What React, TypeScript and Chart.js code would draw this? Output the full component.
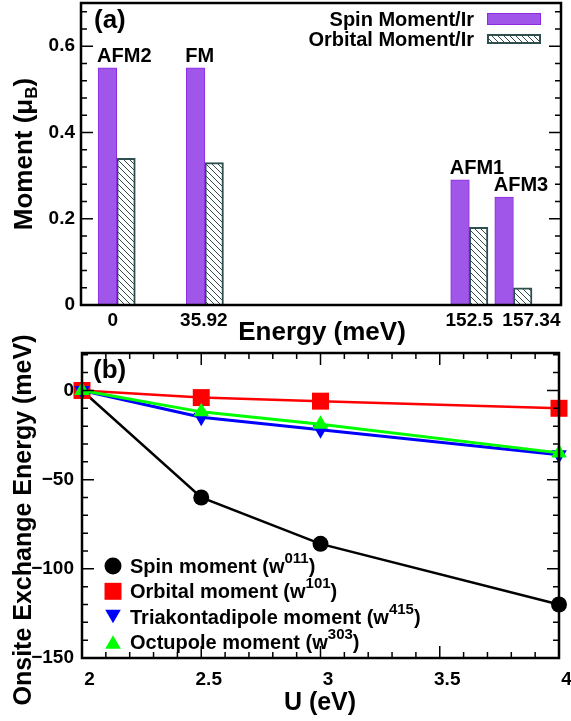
import React, { useEffect, useRef } from 'react';
import { Chart, registerables } from 'chart.js';

Chart.register(...registerables);

const FONT = '"Liberation Sans", Arial, Helvetica, sans-serif';

// ---------- Panel (a) data ----------
const configurations = ['AFM2', 'FM', 'AFM1', 'AFM3'];
const energyTickLabels = ['0', '35.92', '152.5', '157.34'];
const energySlots = [0, 2, 8, 9];
const spinMomentPerIr = [0.55, 0.55, 0.29, 0.25];
const orbitalMomentPerIr = [0.34, 0.33, 0.18, 0.04];
const momentLegend = ['Spin Moment/Ir', 'Orbital Moment/Ir'];

// ---------- Panel (b) data ----------
const uValues = [2, 2.5, 3, 4];
const spinExchange = [0, -60, -86, -120];
const orbitalExchange = [0, -4, -6, -10];
const triakontadipoleExchange = [0, -15, -22, -36];
const octupoleExchange = [0, -12, -19, -35];
const exchangeNames = ['Spin moment', 'Orbital moment', 'Triakontadipole moment', 'Octupole moment'];
const exchangeIndices = ['011', '101', '415', '303'];

// ---------- styles ----------
const PURPLE_FILL = '#a056e8';
const PURPLE_EDGE = '#8a2be2';
const HATCH_COLOR = '#2f4f4f';
const energyLabelShift = [-4, -1, 0, 18];
const MOMENT_MINOR = 0.04;

const exchangeStyles = [
  { color: '#000000', style: 'circle', radius: 8, rotation: 0, width: 2.5, order: 3 },
  { color: '#ff0000', style: 'rect', radius: 12, rotation: 0, width: 2.5, order: 2 },
  { color: '#0000ff', style: 'triangle', radius: 9, rotation: 180, width: 3, order: 1 },
  { color: '#00ff00', style: 'triangle', radius: 9, rotation: 0, width: 3, order: 0 },
];

function makeHatch(): CanvasPattern | string {
  const c = document.createElement('canvas');
  c.width = 6;
  c.height = 6;
  const g = c.getContext('2d');
  if (!g) return '#ffffff';
  g.fillStyle = '#ffffff';
  g.fillRect(0, 0, 6, 6);
  g.strokeStyle = HATCH_COLOR;
  g.lineWidth = 1;
  g.beginPath();
  g.moveTo(-1, -1); g.lineTo(7, 7);
  g.moveTo(-1, 5); g.lineTo(1, 7);
  g.moveTo(5, -1); g.lineTo(7, 1);
  g.stroke();
  return g.createPattern(c, 'repeat') || '#ffffff';
}

type Seg = { text: string; size: number; dy: number };

function drawSegs(ctx: CanvasRenderingContext2D, segs: Seg[], x: number, y: number, align: 'left' | 'center' | 'right') {
  const widths = segs.map((s) => {
    ctx.font = `bold ${s.size}px ${FONT}`;
    return ctx.measureText(s.text).width;
  });
  const total = widths.reduce((a, b) => a + b, 0);
  let cx = align === 'left' ? x : align === 'center' ? x - total / 2 : x - total;
  ctx.textAlign = 'left';
  ctx.textBaseline = 'alphabetic';
  segs.forEach((s, i) => {
    ctx.font = `bold ${s.size}px ${FONT}`;
    ctx.fillText(s.text, cx, y + s.dy);
    cx += widths[i];
  });
}

function drawMarker(ctx: CanvasRenderingContext2D, style: string, rotation: number, x: number, y: number, r: number, color: string) {
  ctx.fillStyle = color;
  ctx.beginPath();
  if (style === 'circle') {
    ctx.arc(x, y, r, 0, Math.PI * 2);
  } else if (style === 'rect') {
    const s = r * Math.SQRT1_2;
    ctx.rect(x - s, y - s, 2 * s, 2 * s);
  } else {
    let rad = (rotation * Math.PI) / 180;
    ctx.moveTo(x + Math.sin(rad) * r, y - Math.cos(rad) * r);
    rad += (2 * Math.PI) / 3;
    ctx.lineTo(x + Math.sin(rad) * r, y - Math.cos(rad) * r);
    rad += (2 * Math.PI) / 3;
    ctx.lineTo(x + Math.sin(rad) * r, y - Math.cos(rad) * r);
    ctx.closePath();
  }
  ctx.fill();
}

function makePanelAPlugin(hatch: CanvasPattern | string) {
  return {
    id: 'panelA',
    afterDraw(chart: any) {
      const { ctx, chartArea: ca } = chart;
      const xs = chart.scales.x;
      const ys = chart.scales.y;
      ctx.save();
      // ticks
      ctx.strokeStyle = '#000';
      ctx.lineWidth = 1.5;
      ctx.beginPath();
      for (let i = 1; i * MOMENT_MINOR <= ys.max + 1e-9; i++) {
        const py = ys.getPixelForValue(i * MOMENT_MINOR);
        const len = i % 5 === 0 ? 12 : 6;
        ctx.moveTo(ca.left, py); ctx.lineTo(ca.left + len, py);
        ctx.moveTo(ca.right, py); ctx.lineTo(ca.right - len, py);
      }
      ctx.stroke();
      // frame
      ctx.lineWidth = 2.5;
      ctx.strokeRect(ca.left, ca.top, ca.right - ca.left, ca.bottom - ca.top);

      ctx.fillStyle = '#000';
      // configuration labels above spin bars
      const meta = chart.getDatasetMeta(0);
      ctx.font = `bold 20px ${FONT}`;
      ctx.textAlign = 'left';
      ctx.textBaseline = 'alphabetic';
      meta.data.forEach((bar: any, i: number) => {
        ctx.fillText(configurations[i], bar.x - bar.width / 2 - 1, bar.y - 6);
      });

      // energy tick labels
      ctx.font = `bold 19px ${FONT}`;
      ctx.textAlign = 'center';
      ctx.textBaseline = 'middle';
      energyTickLabels.forEach((lab, i) => {
        ctx.fillText(lab, xs.getPixelForValue(energySlots[i]) + energyLabelShift[i], ca.bottom + 16);
      });

      // x title
      ctx.font = `bold 26px ${FONT}`;
      ctx.textAlign = 'center';
      ctx.textBaseline = 'alphabetic';
      ctx.fillText('Energy (meV)', 322, ca.bottom + 35);

      // y title
      ctx.save();
      ctx.translate(32, 154);
      ctx.rotate(-Math.PI / 2);
      drawSegs(ctx, [
        { text: 'Moment (\u03bc', size: 26, dy: 0 },
        { text: 'B', size: 17, dy: 5 },
        { text: ')', size: 26, dy: 0 },
      ], 0, 0, 'center');
      ctx.restore();

      // panel tag
      ctx.font = `bold 26px ${FONT}`;
      ctx.textAlign = 'left';
      ctx.fillText('(a)', ca.left + 13, ca.top + 25);

      // legend
      ctx.font = `bold 20px ${FONT}`;
      ctx.textAlign = 'right';
      ctx.fillText(momentLegend[0], ca.right - 87, ca.top + 23);
      ctx.fillText(momentLegend[1], ca.right - 87, ca.top + 43);
      const sx = ca.right - 74;
      ctx.fillStyle = PURPLE_FILL;
      ctx.fillRect(sx, ca.top + 10, 54, 12);
      ctx.strokeStyle = PURPLE_EDGE;
      ctx.lineWidth = 1;
      ctx.strokeRect(sx + 0.5, ca.top + 10.5, 53, 11);
      ctx.fillStyle = hatch as any;
      ctx.fillRect(sx, ca.top + 31, 54, 10);
      ctx.strokeStyle = HATCH_COLOR;
      ctx.lineWidth = 2;
      ctx.strokeRect(sx + 1, ca.top + 32, 52, 8);
      ctx.restore();
    },
  };
}

const panelBPlugin = {
  id: 'panelB',
  afterDraw(chart: any) {
    const { ctx, chartArea: ca } = chart;
    const xs = chart.scales.x;
    const ys = chart.scales.y;
    ctx.save();
    ctx.strokeStyle = '#000';
    ctx.lineWidth = 1.5;
    ctx.beginPath();
    for (let i = -14; i <= 2; i++) {
      const py = ys.getPixelForValue(i * 10);
      if (py < ca.top + 1) continue;
      const len = i % 5 === 0 ? 12 : 6;
      ctx.moveTo(ca.left, py); ctx.lineTo(ca.left + len, py);
      ctx.moveTo(ca.right, py); ctx.lineTo(ca.right - len, py);
    }
    for (let i = 1; i < 20; i++) {
      const px = xs.getPixelForValue(2 + i * 0.1);
      const len = i % 5 === 0 ? 12 : 6;
      ctx.moveTo(px, ca.bottom); ctx.lineTo(px, ca.bottom - len);
      ctx.moveTo(px, ca.top); ctx.lineTo(px, ca.top + len);
    }
    ctx.stroke();
    ctx.lineWidth = 2.5;
    ctx.strokeRect(ca.left, ca.top, ca.right - ca.left, ca.bottom - ca.top);

    ctx.fillStyle = '#000';
    // x title
    ctx.font = `bold 25px ${FONT}`;
    ctx.textAlign = 'center';
    ctx.textBaseline = 'alphabetic';
    ctx.fillText('U (eV)', 320, ca.bottom + 52);

    // y title
    ctx.save();
    ctx.translate(31, 200);
    ctx.rotate(-Math.PI / 2);
    ctx.font = `bold 25px ${FONT}`;
    ctx.textAlign = 'center';
    ctx.fillText('Onsite Exchange Energy (meV)', 0, 0);
    ctx.restore();

    // panel tag
    ctx.font = `bold 26px ${FONT}`;
    ctx.textAlign = 'left';
    ctx.fillText('(b)', ca.left + 11, ca.top + 25);

    // legend
    const lx = ca.left + 31;
    exchangeNames.forEach((name, i) => {
      const cy = ca.top + 213 + i * 25.3;
      const st = exchangeStyles[i];
      const r = st.style === 'circle' ? 8.5 : st.radius;
      const dy = st.style === 'triangle' ? (st.rotation ? -0.25 * r : 0.25 * r) : 0;
      drawMarker(ctx, st.style, st.rotation, lx, cy + dy, r, st.color);
      ctx.fillStyle = '#000';
      drawSegs(ctx, [
        { text: `${name} (w`, size: 20, dy: 0 },
        { text: exchangeIndices[i], size: 15, dy: -10 },
        { text: ')', size: 20, dy: 0 },
      ], lx + 17, cy + 7, 'left');
    });
    ctx.restore();
  },
};

export default function App() {
  const refA = useRef<HTMLCanvasElement | null>(null);
  const refB = useRef<HTMLCanvasElement | null>(null);

  useEffect(() => {
    if (!refA.current || !refB.current) return;
    const hatch = makeHatch();
    const tickFont = { family: FONT, size: 19, weight: 'bold' as const };

    const chartA = new Chart(refA.current, {
      type: 'bar',
      data: {
        datasets: [
          {
            label: momentLegend[0],
            data: energySlots.map((x, i) => ({ x, y: spinMomentPerIr[i] })),
            backgroundColor: PURPLE_FILL,
            borderColor: PURPLE_EDGE,
            borderWidth: 1,
            barThickness: 18.6,
          },
          {
            label: momentLegend[1],
            data: energySlots.map((x, i) => ({ x, y: orbitalMomentPerIr[i] })),
            backgroundColor: hatch as any,
            borderColor: HATCH_COLOR,
            borderWidth: 2,
            barThickness: 18.6,
          },
        ],
      } as any,
      options: {
        responsive: false,
        animation: false,
        devicePixelRatio: 1,
        events: [],
        layout: { padding: { top: 3, right: 10, bottom: 45, left: 0 } },
        plugins: { legend: { display: false }, tooltip: { enabled: false } },
        scales: {
          x: { type: 'linear', display: false, min: -0.81, max: 10.08, offset: false },
          y: {
            min: 0,
            max: 0.7,
            grid: { display: false, drawTicks: false },
            border: { display: false },
            ticks: { stepSize: 0.2, includeBounds: false, padding: 6, color: '#000', font: tickFont },
            afterFit: (s: any) => {
              s.width = 81;
              s.paddingTop = 0;
              s.paddingBottom = 0;
            },
          },
        },
      } as any,
      plugins: [makePanelAPlugin(hatch)],
    });

    const chartB = new Chart(refB.current, {
      type: 'line',
      data: {
        datasets: [spinExchange, orbitalExchange, triakontadipoleExchange, octupoleExchange].map((vals, k) => {
          const st = exchangeStyles[k];
          return {
            label: exchangeNames[k],
            data: uValues.map((x, i) => ({ x, y: vals[i] })),
            borderColor: st.color,
            backgroundColor: st.color,
            borderWidth: st.width,
            pointStyle: st.style,
            pointRadius: st.radius,
            pointRotation: st.rotation,
            pointBackgroundColor: st.color,
            pointBorderColor: st.color,
            pointBorderWidth: 0,
            order: st.order,
            clip: false,
            tension: 0,
          };
        }),
      } as any,
      options: {
        responsive: false,
        animation: false,
        devicePixelRatio: 1,
        events: [],
        layout: { padding: { top: 33, right: 9, bottom: 0, left: 0 } },
        plugins: { legend: { display: false }, tooltip: { enabled: false } },
        scales: {
          x: {
            type: 'linear',
            min: 2,
            max: 4,
            grid: { display: false, drawTicks: false },
            border: { display: false },
            ticks: {
              stepSize: 0.5,
              padding: 10,
              labelOffset: 7.5,
              color: '#000',
              font: tickFont,
              autoSkip: false,
              maxRotation: 0,
              callback: (v: any) => String(Math.round(Number(v) * 10) / 10),
            },
            afterFit: (s: any) => {
              s.height = 63;
              s.paddingLeft = 0;
              s.paddingRight = 0;
            },
          },
          y: {
            min: -150,
            max: 21,
            grid: { display: false, drawTicks: false },
            border: { display: false },
            ticks: {
              stepSize: 50,
              includeBounds: false,
              padding: 8,
              color: '#000',
              font: tickFont,
              callback: (v: any) => String(v).replace('-', '\u2212'),
            },
            afterFit: (s: any) => {
              s.width = 82;
              s.paddingTop = 0;
              s.paddingBottom = 0;
            },
          },
        },
      } as any,
      plugins: [panelBPlugin],
    });

    return () => {
      chartA.destroy();
      chartB.destroy();
    };
  }, []);

  return (
    <div style={{ position: 'fixed', left: 0, top: 0, width: 571, height: 721, background: '#fff' }}>
      <canvas ref={refA} width={571} height={350} style={{ position: 'absolute', left: 0, top: 0, width: 571, height: 350 }} />
      <canvas ref={refB} width={571} height={401} style={{ position: 'absolute', left: 0, top: 320, width: 571, height: 401 }} />
    </div>
  );
}
